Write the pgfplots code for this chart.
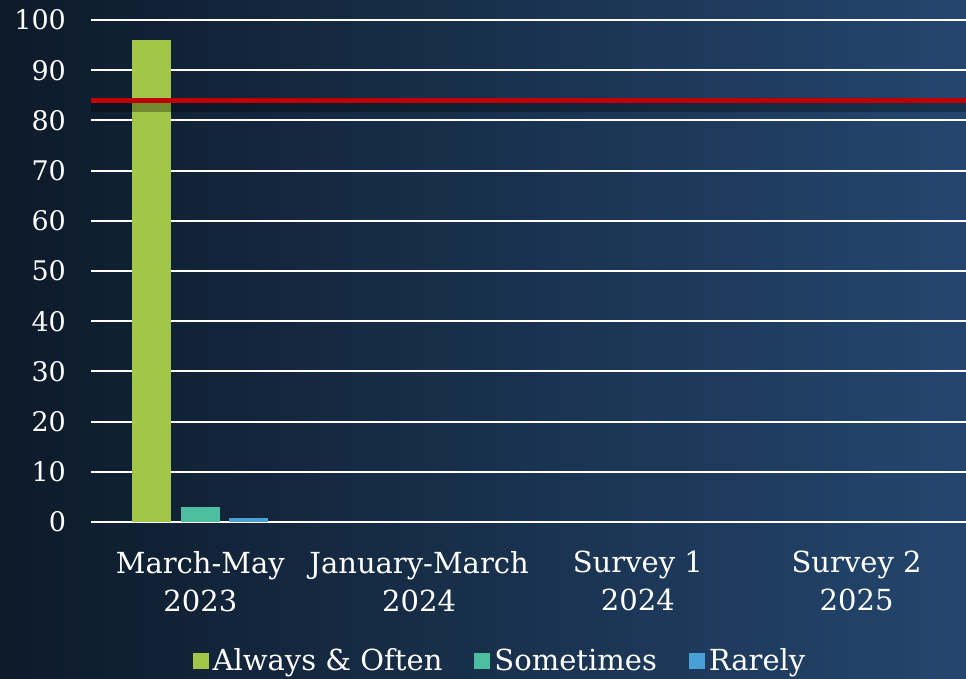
\documentclass[border=0pt]{standalone}
\usepackage{fontspec}
\setmainfont{DejaVu Serif}
\usepackage{pgfplots}
\pgfplotsset{compat=1.18}
\definecolor{cgreen}{RGB}{162,199,72}
\definecolor{cteal}{RGB}{78,190,160}
\definecolor{cblue}{RGB}{74,160,212}
\definecolor{cred}{RGB}{192,0,0}
\definecolor{bgdark}{RGB}{13,26,42}
\definecolor{bglight}{RGB}{36,70,110}
\begin{document}
\begin{tikzpicture}
\shade[left color=bgdark, right color=bglight] (-45.5pt,-78.5pt) rectangle (437.5pt,261pt);
\useasboundingbox (-45.5pt,-78.5pt) rectangle (437.5pt,261pt);
\begin{axis}[
  at={(0,0)}, anchor=south west,
  scale only axis, width=437.5pt, height=251pt,
  xmin=-0.5, xmax=3.5, ymin=0, ymax=100,
  ybar=4.75pt, bar width=19.5pt,
  xtick={0,1,2,3},
  xticklabels={March-May\\2023, January-March\\2024, Survey 1\\2024, Survey 2\\2025},
  ytick={0,10,...,100},
  axis line style={draw=none},
  major tick length=0pt,
  ymajorgrids, grid style={white, line width=1pt},
  /pgf/number format/assume math mode=true,
  yticklabel style={font=\fontsize{13.5}{16}\selectfont, text=white, xshift=-9pt},
  xticklabel style={font=\fontsize{14.5}{19}\selectfont, text=white, align=center, yshift=-11pt},
  legend style={at={(205pt,-69.5pt)}, anchor=center, draw=none, fill=none,
    text=white, font=\fontsize{14.5}{17}\selectfont, legend columns=3,
    /tikz/every even column/.append style={column sep=14pt}},
  legend image code/.code={\path[#1,draw=none] (0pt,-4pt) rectangle (8pt,4pt);},
]
\addplot[fill=cgreen, draw=none] coordinates {(0,96)};
\addplot[fill=cteal, draw=none] coordinates {(0,3)};
\addplot[fill=cblue, draw=none] coordinates {(0,0.8)};
\legend{Always \& Often, Sometimes, Rarely}
\end{axis}
\begin{axis}[
  at={(0,0)}, anchor=south west,
  scale only axis, width=437.5pt, height=251pt,
  xmin=-0.5, xmax=3.5, ymin=0, ymax=100,
  hide axis,
]
\addplot[black, opacity=0.3, line width=5pt, forget plot] coordinates {(-0.5,82.6) (3.5,82.6)};
\addplot[cred, line width=2.5pt, forget plot] coordinates {(-0.5,83.9) (3.5,83.9)};
\end{axis}
\end{tikzpicture}
\end{document}
